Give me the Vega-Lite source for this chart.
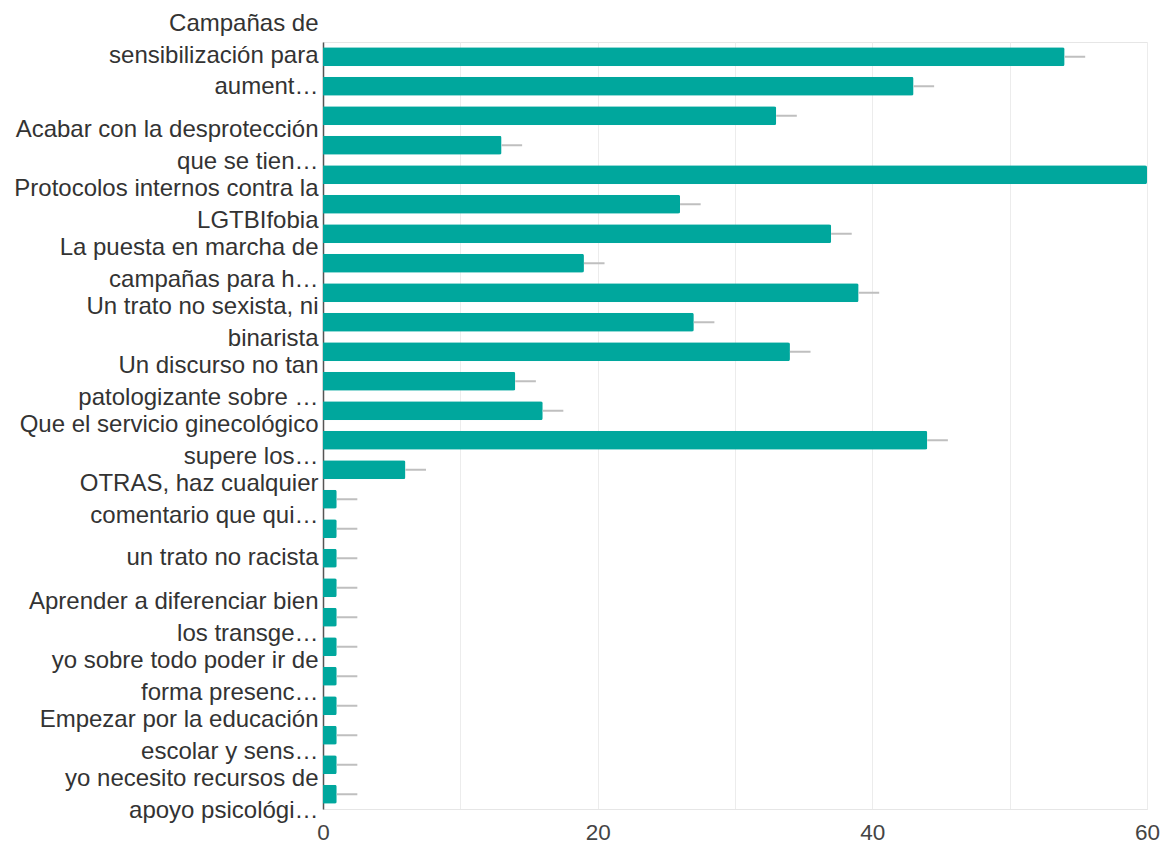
{
  "$schema": "https://vega.github.io/schema/vega-lite/v6.json",
  "width": 824,
  "height": 767,
  "autosize": "none",
  "padding": {"left": 323, "top": 42, "right": 15, "bottom": 37},
  "background": "white",
  "config": {"font": "Liberation Sans", "view": {"stroke": "#e6e6e6"}},
  "data": {
    "values": [
      {"opcion": "Campañas de|sensibilización para|aument…", "respuestas": 54, "sup": 55.5},
      {"opcion": "Opción 2", "respuestas": 43, "sup": 44.5},
      {"opcion": "Opción 3", "respuestas": 33, "sup": 34.5},
      {"opcion": "Acabar con la desprotección|que se tien…", "respuestas": 13, "sup": 14.5},
      {"opcion": "Opción 5", "respuestas": 60, "sup": 61.5},
      {"opcion": "Protocolos internos contra la|LGTBIfobia", "respuestas": 26, "sup": 27.5},
      {"opcion": "Opción 7", "respuestas": 37, "sup": 38.5},
      {"opcion": "La puesta en marcha de|campañas para h…", "respuestas": 19, "sup": 20.5},
      {"opcion": "Opción 9", "respuestas": 39, "sup": 40.5},
      {"opcion": "Un trato no sexista, ni|binarista", "respuestas": 27, "sup": 28.5},
      {"opcion": "Opción 11", "respuestas": 34, "sup": 35.5},
      {"opcion": "Un discurso no tan|patologizante sobre …", "respuestas": 14, "sup": 15.5},
      {"opcion": "Opción 13", "respuestas": 16, "sup": 17.5},
      {"opcion": "Que el servicio ginecológico|supere los…", "respuestas": 44, "sup": 45.5},
      {"opcion": "Opción 15", "respuestas": 6, "sup": 7.5},
      {"opcion": "OTRAS, haz cualquier|comentario que qui…", "respuestas": 1, "sup": 2.5},
      {"opcion": "Opción 17", "respuestas": 1, "sup": 2.5},
      {"opcion": "un trato no racista", "respuestas": 1, "sup": 2.5},
      {"opcion": "Opción 19", "respuestas": 1, "sup": 2.5},
      {"opcion": "Aprender a diferenciar bien|los transge…", "respuestas": 1, "sup": 2.5},
      {"opcion": "Opción 21", "respuestas": 1, "sup": 2.5},
      {"opcion": "yo sobre todo poder ir de|forma presenc…", "respuestas": 1, "sup": 2.5},
      {"opcion": "Opción 23", "respuestas": 1, "sup": 2.5},
      {"opcion": "Empezar por la educación|escolar y sens…", "respuestas": 1, "sup": 2.5},
      {"opcion": "Opción 25", "respuestas": 1, "sup": 2.5},
      {"opcion": "yo necesito recursos de|apoyo psicológi…", "respuestas": 1, "sup": 2.5}
    ]
  },
  "encoding": {
    "y": {
      "field": "opcion",
      "type": "nominal",
      "sort": null,
      "scale": {"paddingInner": 0.36, "paddingOuter": 0.18},
      "axis": {
        "title": null,
        "ticks": false,
        "grid": false,
        "domainColor": "#555555",
        "domainWidth": 1.5,
        "labelFontSize": 24,
        "labelColor": "#333333",
        "labelPadding": 5,
        "labelLineHeight": 31.5,
        "labelLimit": 400,
        "labelOverlap": false,
        "labelOffset": {
          "condition": [
            {"test": "indexof(datum.value, 'Campañas') == 0", "value": -32.5},
            {"test": "indexof(datum.value, '|') > 0", "value": -15}
          ],
          "value": 0
        },
        "labelExpr": "indexof(datum.value, 'Opción ') == 0 ? '' : split(datum.value, '|')"
      }
    }
  },
  "layer": [
    {
      "mark": {"type": "bar", "color": "#00a79d", "cornerRadiusEnd": 2},
      "encoding": {
        "x": {
          "field": "respuestas",
          "type": "quantitative",
          "scale": {"domain": [0, 60], "nice": false},
          "axis": {
            "title": null,
            "values": [0, 10, 20, 30, 40, 50, 60],
            "grid": true,
            "gridColor": "#ececec",
            "domainColor": "#e6e6e6",
            "ticks": false,
            "labelFontSize": 22.5,
            "labelColor": "#444444",
            "labelPadding": 12,
            "labelFlush": false,
            "labelExpr": "datum.value % 20 == 0 ? datum.label : ''"
          }
        }
      }
    },
    {
      "mark": {"type": "rule", "color": "#bfbfbf", "strokeWidth": 2, "clip": true},
      "encoding": {
        "x": {"field": "respuestas", "type": "quantitative"},
        "x2": {"field": "sup"}
      }
    }
  ]
}
